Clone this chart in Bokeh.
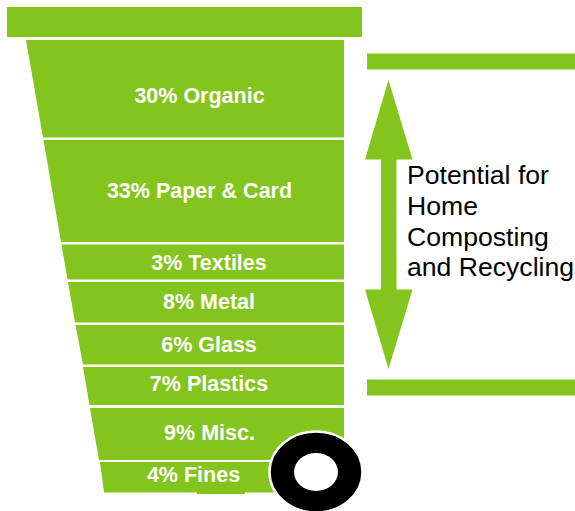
from bokeh.core.properties import value
from bokeh.embed import file_html
from bokeh.models import ColumnDataSource, Range1d
from bokeh.plotting import figure
from bokeh.resources import INLINE

# Composition of a residual waste bin, top layer first
percent = [30, 33, 3, 8, 6, 7, 9, 4]
material = ["Organic", "Paper & Card", "Textiles", "Metal", "Glass", "Plastics", "Misc.", "Fines"]
caption = ["Potential for", "Home", "Composting", "and Recycling"]

# Layer geometry of the bin drawing, in page pixels
layer_top = [40, 140, 244.5, 282, 325, 367, 408, 462]
layer_bottom = [137.5, 242, 279.5, 322.5, 364.5, 405, 460, 492.5]
left_top = [26, 43.5, 61.5, 68, 75.5, 83, 90, 100]
left_bottom = [43, 61, 67.5, 75, 83, 89.5, 99, 104]
bin_right = 344
label_x = [199.5, 199.5, 209, 209, 209, 209, 209.5, 193.5]
label_y = [95.5, 190.5, 262.5, 301.5, 344.5, 383.5, 432.5, 474.5]

GREEN = "#83C51C"
FONT = value("Liberation Sans")

p = figure(
    width=575, height=511, output_backend="svg", toolbar_location=None,
    x_range=Range1d(0.5, 575.5), y_range=Range1d(511.5, 0.5),
    x_axis_type=None, y_axis_type=None, min_border=0,
    outline_line_color=None, background_fill_color="white", border_fill_color="white",
)
p.grid.visible = False

# Bin body, one trapezium per material
layers = ColumnDataSource(dict(
    xs=[[lt, bin_right, bin_right, lb] for lt, lb in zip(left_top, left_bottom)],
    ys=[[t, t, b, b] for t, b in zip(layer_top, layer_bottom)],
))
p.patches("xs", "ys", source=layers, fill_color=GREEN, line_color=None)

# Lid, the two bracket bars and the small foot under the bin
p.quad(left=[7, 367, 367, 197], right=[362, 576, 576, 245],
       top=[7, 53.5, 379.5, 492], bottom=[37, 69.5, 395.5, 494],
       fill_color=GREEN, line_color=None)

# Double-headed arrow spanning the recoverable layers
p.patch(
    [388.5, 412.5, 396.5, 396.5, 412.5, 388.5, 365, 381, 381, 365],
    [80, 159.5, 159.5, 289.5, 289.5, 369, 289.5, 289.5, 159.5, 159.5],
    fill_color=GREEN, line_color=None,
)

# Wheel
p.ellipse(x=[316], y=[472], width=[93], height=[81], fill_color="black",
          line_color="white", line_width=2.5)
p.ellipse(x=[316], y=[472], width=[44], height=[38], fill_color="white", line_color=None)

# Layer labels
labels = ColumnDataSource(dict(
    x=label_x, y=label_y,
    text=[f"{v}% {m}" for v, m in zip(percent, material)],
))
p.text("x", "y", "text", source=labels, text_color="white", text_font=FONT,
       text_font_style="bold", text_font_size="21.5px",
       text_align="center", text_baseline="middle")

# Caption beside the arrow
p.text(x=[407] * len(caption), y=[174.5, 205.5, 236.5, 266.5], text=caption,
       text_color="black", text_font=FONT, text_font_size="26.6px",
       text_align="left", text_baseline="middle")

with open("out.html", "w") as f:
    f.write(file_html(p, INLINE))
